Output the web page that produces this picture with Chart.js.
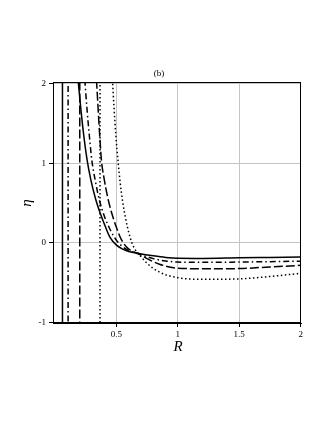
<!DOCTYPE html>
<html>
<head>
<meta charset="utf-8">
<script src="https://cdn.jsdelivr.net/npm/chart.js"></script>
<style>
  html, body { margin: 0; padding: 0; background: #fff; }
  #wrap { width: 327px; height: 423px; }
</style>
</head>
<body>
<div id="wrap"><canvas id="etaChart" width="327" height="423"></canvas></div>
<script>
// curve data (R, eta)
const solidR   = [0.187, 0.21, 0.235, 0.26, 0.29, 0.33, 0.37, 0.41, 0.45, 0.5, 0.55, 0.6, 0.68, 0.8, 0.9, 1.0, 1.2, 1.5, 1.75, 2.0];
const solidEta = [2.05, 1.68, 1.33, 1.05, 0.8, 0.55, 0.36, 0.2, 0.06, -0.03, -0.08, -0.11, -0.135, -0.165, -0.185, -0.195, -0.197, -0.19, -0.185, -0.18];

const dashDotR   = [0.242, 0.26, 0.28, 0.30, 0.33, 0.36, 0.40, 0.45, 0.5, 0.55, 0.6, 0.68, 0.8, 0.9, 1.0, 1.25, 1.5, 1.75, 2.0];
const dashDotEta = [2.05, 1.68, 1.33, 1.03, 0.76, 0.54, 0.34, 0.16, 0.03, -0.05, -0.1, -0.14, -0.2, -0.23, -0.243, -0.247, -0.243, -0.238, -0.232];

const dashedR   = [0.337, 0.35, 0.363, 0.378, 0.40, 0.43, 0.46, 0.5, 0.54, 0.58, 0.62, 0.68, 0.75, 0.85, 1.0, 1.25, 1.5, 1.75, 2.0];
const dashedEta = [2.05, 1.7, 1.36, 1.03, 0.8, 0.56, 0.38, 0.19, 0.04, -0.05, -0.1, -0.14, -0.2, -0.27, -0.32, -0.328, -0.325, -0.305, -0.285];

const dottedR   = [0.467, 0.48, 0.495, 0.513, 0.53, 0.55, 0.575, 0.6, 0.625, 0.65, 0.68, 0.75, 0.85, 1.0, 1.2, 1.5, 1.75, 2.0];
const dottedEta = [2.05, 1.7, 1.35, 1.02, 0.76, 0.52, 0.3, 0.13, 0.0, -0.08, -0.14, -0.26, -0.37, -0.44, -0.46, -0.455, -0.425, -0.385];

// vertical asymptotes (solid, dash-dot, dashed, dotted)
const asymR = [0.06, 0.106, 0.201, 0.366];

const xTicks = [0.5, 1, 1.5, 2];
const yTicks = [-1, 0, 1, 2];
const xMin = -0.017, xMax = 2.003;
const yMin = -1.01, yMax = 2.022;

const styles = [
  { dash: [] },
  { dash: [6, 3, 1.5, 3] },
  { dash: [9, 3] },
  { dash: [1.5, 2.5] }
];

function pts(xs, ys) {
  return xs.map((x, i) => ({ x: x, y: ys[i] }));
}

const curves = [pts(solidR, solidEta), pts(dashDotR, dashDotEta), pts(dashedR, dashedEta), pts(dottedR, dottedEta)];

const datasets = [];
curves.forEach((c, i) => {
  datasets.push({
    data: c, showLine: true, borderColor: '#000', borderWidth: 1.5,
    borderDash: styles[i].dash, pointRadius: 0, cubicInterpolationMode: 'monotone', clip: 0
  });
  datasets.push({
    data: [{ x: asymR[i], y: yMin - 1 }, { x: asymR[i], y: yMax + 1 }],
    showLine: true, borderColor: '#000', borderWidth: 1.5,
    borderDash: styles[i].dash, pointRadius: 0, clip: 0
  });
});

const frameAndLabels = {
  id: 'frameAndLabels',
  afterDraw(chart) {
    const { ctx, chartArea: a } = chart;
    ctx.save();
    ctx.strokeStyle = '#000';
    ctx.lineWidth = 1;
    ctx.strokeRect(Math.round(a.left) + 0.5, Math.round(a.top) + 0.5,
      Math.round(a.right - a.left) - 1, Math.round(a.bottom - a.top) - 1);
    ctx.fillStyle = '#000';
    ctx.textAlign = 'center';
    ctx.textBaseline = 'middle';
    ctx.font = '9px "Liberation Serif"';
    ctx.fillText('(b)', 159, 74);
    ctx.font = 'italic 15px "Liberation Serif"';
    ctx.fillText('R', 178, 347);
    ctx.translate(27, 203);
    ctx.rotate(-Math.PI / 2);
    ctx.fillText('η', 0, 0);
    ctx.restore();
  }
};

new Chart(document.getElementById('etaChart'), {
  type: 'scatter',
  data: { datasets: datasets },
  options: {
    responsive: false,
    animation: false,
    layout: { padding: { left: 0, top: 82, right: 26, bottom: 60 } },
    plugins: { legend: { display: false }, tooltip: { enabled: false } },
    scales: {
      x: {
        type: 'linear', min: xMin, max: xMax,
        afterBuildTicks: (s) => { s.ticks = xTicks.map(v => ({ value: v })); },
        afterFit: (s) => { s.height = 40; },
        grid: { color: '#c4c4c4', lineWidth: 1, tickLength: 4, tickColor: '#000' },
        border: { display: true, color: '#000' },
        ticks: { color: '#000', font: { family: 'Liberation Serif', size: 9 }, padding: 2, maxRotation: 0,
          callback: (v) => String(v) }
      },
      y: {
        type: 'linear', min: yMin, max: yMax,
        afterBuildTicks: (s) => { s.ticks = yTicks.map(v => ({ value: v })); },
        afterFit: (s) => { s.width = 53; },
        grid: { color: '#c4c4c4', lineWidth: 1, tickLength: 4, tickColor: '#000' },
        border: { display: true, color: '#000' },
        ticks: { color: '#000', font: { family: 'Liberation Serif', size: 9 }, padding: 3,
          callback: (v) => String(v) }
      }
    }
  },
  plugins: [frameAndLabels]
});
</script>
</body>
</html>
